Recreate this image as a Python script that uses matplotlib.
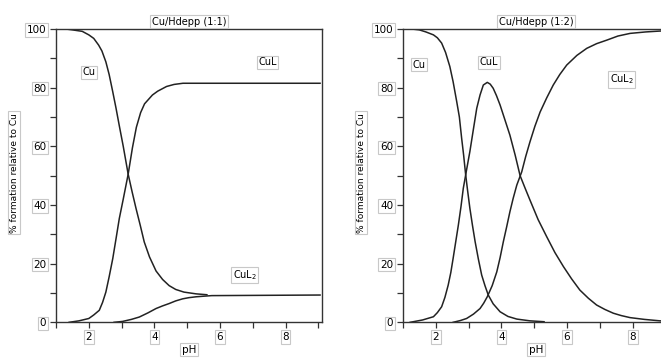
import matplotlib.pyplot as plt
from matplotlib.ticker import MultipleLocator

# 1:1 system
ph_cu_11 = [1.3, 1.5, 1.8, 2.0, 2.15, 2.3, 2.4, 2.52, 2.62, 2.73, 2.83, 2.93, 3.05, 3.2, 3.32,
            3.44, 3.57, 3.69, 3.85, 4.05, 4.25, 4.45, 4.65, 4.9, 5.27, 5.6]
cu_11 = [100, 99.7, 99.2, 98, 96.8, 94.5, 92.5, 88.8, 84.5, 78.6, 73, 67, 60, 50.5, 44.5,
         38.8, 33, 27.4, 22.3, 17.5, 14.6, 12.5, 11.2, 10.3, 9.7, 9.4]
ph_cul_11 = [1.4, 1.7, 2.0, 2.15, 2.32, 2.42, 2.52, 2.62, 2.73, 2.83, 2.93, 3.05, 3.2, 3.33,
             3.45, 3.58, 3.7, 3.94, 4.1, 4.37, 4.6, 4.87, 9.05]
cul_11 = [0, 0.5, 1.3, 2.5, 4.1, 6.8, 10.3, 15.5, 21.7, 28.5, 35.4, 42, 50.5, 59.5,
          66.5, 71.5, 74.5, 77.5, 78.8, 80.4, 81.1, 81.5, 81.5]
ph_cul2_11 = [2.77, 3.03, 3.3, 3.54, 3.8, 4.05, 4.25, 4.45, 4.65, 4.86, 5.05, 5.27, 5.5, 5.75, 9.05]
cul2_11 = [0, 0.3, 1.0, 1.8, 3.2, 4.7, 5.6, 6.4, 7.3, 8.0, 8.4, 8.7, 8.9, 9.1, 9.3]

# 1:2 system
ph_cu_12 = [1.27, 1.5, 1.7, 1.93, 2.05, 2.18, 2.3, 2.43, 2.53, 2.64, 2.72, 2.79, 2.85, 2.91,
            2.97, 3.04, 3.12, 3.2, 3.3, 3.4, 3.5, 3.6, 3.75, 3.96, 4.2, 4.47, 4.87, 5.3]
cu_12 = [100, 99.7, 99, 98, 97, 95.2, 92, 87.2, 82, 75.2, 70, 62.7, 57, 50.5,
         45, 38.9, 33, 27.5, 21.5, 16.1, 12.5, 9.3, 6.3, 3.6, 2.0, 1.1, 0.5, 0.2]
ph_cul_12 = [1.22, 1.6, 1.93, 2.05, 2.18, 2.28, 2.38, 2.46, 2.53, 2.61, 2.69, 2.77, 2.84, 2.94,
             3.04, 3.15, 3.25, 3.35, 3.45, 3.57, 3.66, 3.75, 3.85, 3.96, 4.1, 4.26, 4.42,
             4.57, 4.72, 4.87, 5.12, 5.38, 5.63, 5.89, 6.14, 6.39, 6.65, 6.9, 7.15, 7.41,
             7.65, 7.92, 8.35, 8.83, 9.1]
cul_12 = [0, 0.8, 1.9, 3.3, 5.3, 8.5, 12.7, 17, 21.8, 27.5, 33.2, 39.5, 45.7, 52,
          58.2, 66, 73, 77.5, 80.9, 81.8, 81.2, 79.8, 77.3, 74.1, 69.3, 63.8, 57,
          50, 45.8, 41.7, 35, 29.2, 23.8, 19, 14.8, 11, 8.2, 5.9, 4.4, 3.1,
          2.3, 1.6, 1.0, 0.5, 0.4]
ph_cul2_12 = [2.53, 2.75, 2.94, 3.15, 3.35, 3.46, 3.57, 3.72, 3.86, 3.96, 4.06, 4.16, 4.26,
              4.36, 4.47, 4.62, 4.74, 4.87, 5.02, 5.18, 5.38, 5.58, 5.78, 5.99, 6.3, 6.6,
              6.9, 7.21, 7.55, 7.92, 8.4, 8.83, 9.1]
cul2_12 = [0, 0.6, 1.3, 2.8, 4.7, 6.5, 8.7, 12.5, 17.2, 22, 27.5, 32.5, 37.7,
           42.3, 46.8, 51.3, 56.5, 61.5, 66.8, 71.7, 76.5, 80.9, 84.5, 87.7, 91, 93.4,
           95, 96.2, 97.6, 98.5, 99, 99.3, 99.4]

box = dict(boxstyle='square,pad=0.15', fc='white', ec='#c8c8c8', lw=0.8)
fs = 7.5

fig = plt.figure(figsize=(6.61, 3.58), dpi=100)
ax1 = fig.add_axes([56 / 661, 0.0997, 265.7 / 661, 0.8193])
ax2 = fig.add_axes([402.9 / 661, 0.0997, 265.9 / 661, 0.8193])


def setup(ax, title, ylx):
    ax.set_xlim(1, 9.1)
    ax.set_ylim(0, 100)
    ax.xaxis.set_major_locator(MultipleLocator(2))
    ax.xaxis.set_minor_locator(MultipleLocator(1))
    ax.yaxis.set_major_locator(MultipleLocator(20))
    ax.yaxis.set_minor_locator(MultipleLocator(10))
    ax.tick_params(which='both', direction='out', length=4, width=0.9, color='#333333',
                   labelsize=fs, pad=3)
    for lab in ax.get_xticklabels() + ax.get_yticklabels():
        lab.set_bbox(box)
    for s in ax.spines.values():
        s.set_linewidth(1.0)
        s.set_color('#333333')
    ax.set_title(title, fontsize=fs - 0.5, pad=3, bbox=box)
    ax.set_xlabel('pH', fontsize=fs, labelpad=2, bbox=box)
    ax.set_ylabel('% formation relative to Cu', fontsize=fs - 1, bbox=box)
    ax.yaxis.set_label_coords(ylx, 0.51)


setup(ax1, 'Cu/Hdepp (1:1)', -0.14)
setup(ax2, 'Cu/Hdepp (1:2)', -0.14)

lc = '#222222'
ax1.plot(ph_cu_11, cu_11, color=lc, lw=1.1)
ax1.plot(ph_cul_11, cul_11, color=lc, lw=1.1)
ax1.plot(ph_cul2_11, cul2_11, color=lc, lw=1.1)
ax2.plot(ph_cu_12, cu_12, color=lc, lw=1.1)
ax2.plot(ph_cul_12, cul_12, color=lc, lw=1.1)
ax2.plot(ph_cul2_12, cul2_12, color=lc, lw=1.1)

lab_kw = dict(fontsize=fs - 0.5, ha='center', va='center', bbox=box)
ax1.text(2.0, 85.2, 'Cu', **lab_kw)
ax1.text(7.45, 88.6, 'CuL', **lab_kw)
ax1.text(6.76, 16.1, 'CuL$_2$', **lab_kw)
ax2.text(1.49, 87.8, 'Cu', **lab_kw)
ax2.text(3.62, 88.6, 'CuL', **lab_kw)
ax2.text(7.67, 82.9, 'CuL$_2$', **lab_kw)

fig.savefig('out.png', dpi=100)
